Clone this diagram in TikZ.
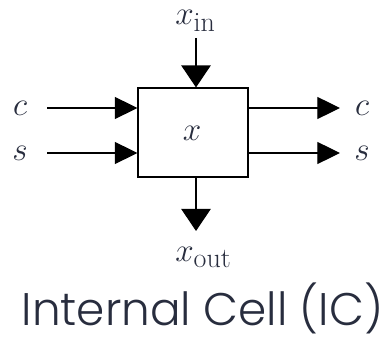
\documentclass[tikz,border=0pt]{standalone}
\usepackage{fontspec}
\usetikzlibrary{arrows.meta}
\newfontfamily\titlefont{Poppins Light}
\definecolor{txt}{RGB}{40,45,62}
\begin{document}
\begin{tikzpicture}[x=0.75pt,y=-0.75pt,
  lbl/.style={text=txt, font=\fontsize{28}{32}\selectfont, inner sep=0},
  big/.style={text=txt, font=\fontsize{30}{34}\selectfont, inner sep=0},
  ln/.style={line width=0.9pt},
  hh/.style={ln,-{Triangle[length=17pt,width=16.5pt]}},
  vv/.style={ln,-{Triangle[length=16.5pt,width=22pt]}}]
\useasboundingbox (0,0) rectangle (388,341);
\node[draw, line width=0.8pt, minimum width=82.5pt, minimum height=66.75pt, inner sep=0] (box) at (193,132.5) {};
\node[lbl, font=\fontsize{25}{30}\selectfont] (x) at (192,133) {$x$};
\node[lbl] (cin) at (20,108) {$c$};
\node[lbl] (sin) at (20,153) {$s$};
\node[lbl] (cout) at (362,108) {$c$};
\node[lbl] (sout) at (362,153) {$s$};
\node[big, anchor=base west] (xin) at (175,25) {$x_{\mathrm{in}}$};
\node[big, anchor=base west] (xout) at (175,262) {$x_{\mathrm{out}}$};
\coordinate (cL) at (47,108);
\coordinate (sL) at (47,153);
\coordinate (cR) at (340,108);
\coordinate (sR) at (340,153);
\coordinate (top) at (196,38);
\coordinate (bot) at (196,231);
\draw[hh] (cL) -- (cL -| box.west);
\draw[hh] (sL) -- (sL -| box.west);
\draw[hh] (cR -| box.east) -- (cR);
\draw[hh] (sR -| box.east) -- (sR);
\draw[vv] (top) -- (top |- box.north);
\draw[vv] (top |- box.south) -- (bot);
\node[text=txt, anchor=base, inner sep=0] (title) at (202.5,325) {\resizebox{271pt}{32pt}{\titlefont Internal Cell (IC)}};
\end{tikzpicture}
\end{document}
